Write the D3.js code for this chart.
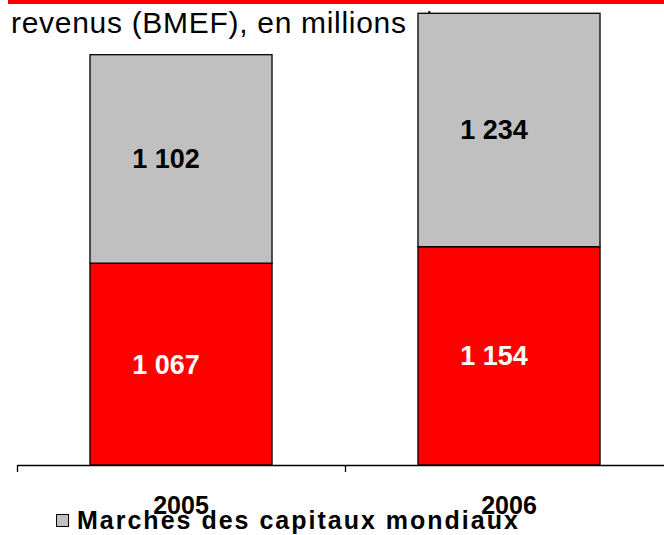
<!DOCTYPE html>
<html>
<head>
<meta charset="utf-8">
<script src="https://cdn.jsdelivr.net/npm/d3@7"></script>
<style>
  body { margin: 0; background: #fff; }
  svg { display: block; font-family: "Liberation Sans", Arial, sans-serif; }
</style>
</head>
<body>
<div id="chart"></div>
<script>
// data
const years = ['2005', '2006'];
const redValues = [1067, 1154];   // bottom segment
const greyValues = [1102, 1234];  // Marches des capitaux mondiaux
const titleMain = 'revenus (BMEF), en millions';
const titleUnit = '$';
const legendLabel = 'Marches des capitaux mondiaux';

const width = 664;
const height = 535;

const svg = d3.select('#chart').append('svg')
  .attr('width', width)
  .attr('height', height);

// red rule on top
svg.append('rect')
  .attr('x', 8).attr('y', 0)
  .attr('width', width - 8).attr('height', 4)
  .style('fill', '#ff0000');

// title (sits behind the bars)
const title = svg.append('text')
  .attr('x', 11).attr('y', 33)
  .style('font-size', '30px')
  .style('letter-spacing', '0.7px')
  .style('fill', '#000');
title.append('tspan').text(titleMain);
title.append('tspan').attr('dx', 14).text(titleUnit);

// scales
const x = d3.scaleBand().domain(years).range([17, 673])
  .paddingInner(0.445).paddingOuter(0.2225);
const xb = d3.scaleLinear().domain([0, years.length]).range([17, 673]);
const y = d3.scaleLinear().domain([0, 2400]).range([465, 11]);

const stacked = years.map((yr, i) => ({
  year: yr,
  segs: [
    { y0: 0, y1: redValues[i], v: redValues[i], fill: '#ff0000', txt: '#fff' },
    { y0: redValues[i], y1: redValues[i] + greyValues[i], v: greyValues[i], fill: '#c0c0c0', txt: '#000' }
  ]
}));

const fmt = v => d3.format(',')(v).replace(',', ' ');

const g = svg.selectAll('g.bar')
  .data(stacked)
  .enter()
  .append('g')
  .attr('class', 'bar');

g.selectAll('rect')
  .data(d => d.segs.map(s => Object.assign({ year: d.year }, s)))
  .enter()
  .append('rect')
  .attr('x', d => x(d.year))
  .attr('width', x.bandwidth())
  .attr('y', d => y(d.y1))
  .attr('height', d => y(d.y0) - y(d.y1))
  .style('fill', d => d.fill)
  .style('stroke', '#000')
  .style('stroke-width', 1.3);

g.selectAll('text')
  .data(d => d.segs.map(s => Object.assign({ year: d.year }, s)))
  .enter()
  .append('text')
  .attr('x', d => x(d.year) + x.bandwidth() / 2 - 15)
  .attr('y', d => (y(d.y0) + y(d.y1)) / 2)
  .attr('dy', '0.35em')
  .attr('text-anchor', 'middle')
  .style('font-size', '27px')
  .style('font-weight', 'bold')
  .style('fill', d => d.txt)
  .text(d => fmt(d.v));

// axis
const xAxis = d3.axisBottom(xb).tickValues([0, 1, 2]).tickSize(7).tickSizeOuter(0).tickFormat('');
const gX = svg.append('g')
  .attr('transform', 'translate(0,465)')
  .call(xAxis);
gX.select('.domain').style('stroke', '#000').style('stroke-width', 1.3);
gX.selectAll('.tick line').style('stroke', '#000').style('stroke-width', 1.3);

// year labels
svg.selectAll('text.year')
  .data(years)
  .enter()
  .append('text')
  .attr('class', 'year')
  .attr('x', d => x(d) + x.bandwidth() / 2)
  .attr('y', 514)
  .attr('text-anchor', 'middle')
  .style('font-size', '25px')
  .style('font-weight', 'bold')
  .text(d => d);

// legend
svg.append('rect')
  .attr('x', 56.5).attr('y', 514.5)
  .attr('width', 12).attr('height', 12)
  .style('fill', '#c0c0c0')
  .style('stroke', '#000')
  .style('stroke-width', 1);

svg.append('text')
  .attr('x', 77).attr('y', 529)
  .style('font-size', '25px')
  .style('font-weight', 'bold')
  .style('letter-spacing', '2px')
  .text(legendLabel);
</script>
</body>
</html>
